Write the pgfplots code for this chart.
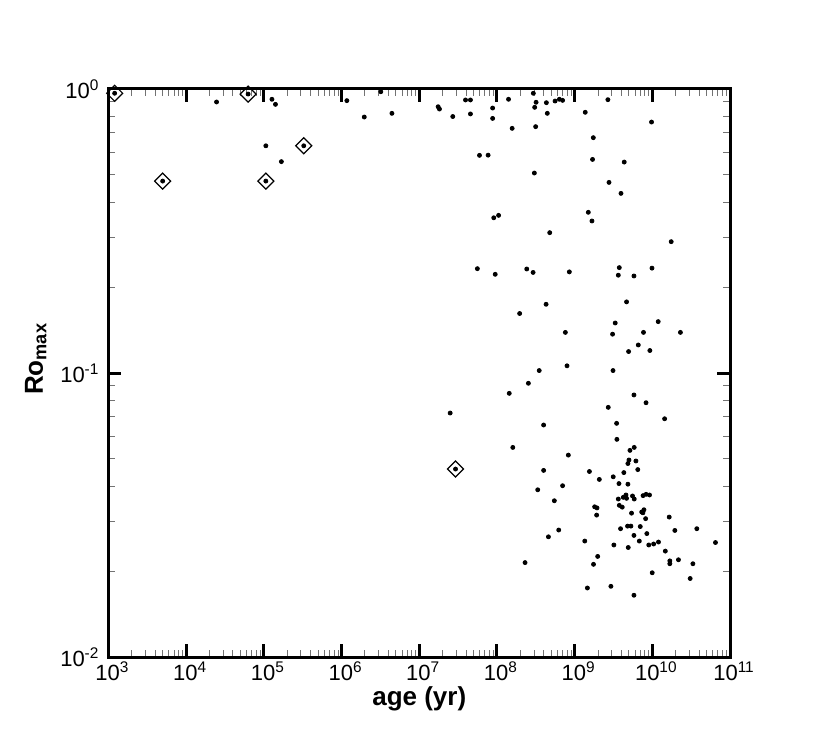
\documentclass[border=0pt]{standalone}
\usepackage{fontspec}
\setmainfont{Liberation Sans}
\usepackage{pgfplots}
\pgfplotsset{compat=1.18}
\usepackage{pgfplotstable}

\pgfplotstableread{
x y
1.2e3 0.966
2.46e4 0.90
6.27e4 0.96
1.27e5 0.92
1.41e5 0.883
1.17e6 0.91
1.06e5 0.631
3.26e5 0.631
1.68e5 0.555
4.98e3 0.474
1.06e5 0.474
3.2e6 0.978
1.96e6 0.797
4.45e6 0.821
1.75e7 0.866
1.82e7 0.85
2.7e7 0.80
3.94e7 0.915
4.56e7 0.915
4.56e7 0.817
8.8e7 0.857
8.8e7 0.788
1.41e8 0.92
2.94e8 0.966
3.19e8 0.898
3.06e8 0.862
1.57e8 0.727
3.15e8 0.737
5.96e7 0.584
7.7e7 0.585
3.03e8 0.506
4.33e8 0.895
4.45e8 0.821
5.6e8 0.907
6.36e8 0.92
7.0e8 0.912
1.37e9 0.828
2.68e9 0.917
9.77e9 0.765
1.74e9 0.674
1.7e9 0.565
4.35e9 0.553
2.77e9 0.469
3.95e9 0.429
9.1e7 0.352
1.05e8 0.359
1.5e9 0.368
1.67e9 0.343
4.78e8 0.312
1.75e10 0.29
5.6e7 0.233
9.5e7 0.2226
2.42e8 0.2324
2.92e8 0.226
8.55e8 0.227
3.76e9 0.235
3.65e9 0.221
5.8e9 0.2196
9.9e9 0.234
4.66e9 0.178
4.29e8 0.1746
1.96e8 0.162
3.33e9 0.150
1.19e10 0.1517
7.6e8 0.139
3.08e9 0.137
7.7e9 0.139
2.3e10 0.139
6.6e9 0.1255
4.95e9 0.119
9.3e9 0.120
3.5e8 0.102
7.98e8 0.106
3.12e9 0.102
2.54e8 0.092
1.44e8 0.0848
5.8e9 0.0837
8.3e9 0.0786
2.71e9 0.0757
1.44e10 0.069
2.5e7 0.0723
3.99e8 0.0656
3.47e9 0.0665
3.5e9 0.0584
1.6e8 0.0547
5.15e9 0.0534
5.85e9 0.0547
8.3e8 0.0514
5e9 0.0494
6.15e9 0.049
4.85e9 0.048
2.93e7 0.0459
3.99e8 0.0454
1.55e9 0.045
6.5e9 0.0457
4.3e9 0.0446
3.14e9 0.0431
2.08e9 0.0422
3.72e9 0.0408
4.85e9 0.0406
3.35e8 0.0388
7.0e8 0.0401
5.48e8 0.0355
3.65e9 0.036
4.23e9 0.0365
4.58e9 0.0372
4.66e9 0.0362
5.56e9 0.0369
5.85e9 0.036
7.6e9 0.037
8.3e9 0.0374
9.2e9 0.0372
3.76e9 0.0342
4.1e9 0.0337
1.81e9 0.0338
1.94e9 0.0335
1.92e9 0.0316
5.4e9 0.0321
7.3e9 0.0324
7.8e9 0.033
7.57e9 0.0322
1.65e10 0.0311
8.2e9 0.0307
6.24e8 0.028
4.6e8 0.0265
3.9e9 0.0283
4.8e9 0.0289
5.3e9 0.0289
7.0e9 0.0288
1.95e10 0.0279
3.74e10 0.0283
5.8e9 0.0268
8.5e9 0.0272
2.3e8 0.0215
1.35e9 0.0256
1.75e9 0.0212
1.98e9 0.0226
1.46e9 0.0175
2.93e9 0.01774
3.2e9 0.0248
4.9e9 0.0243
5.8e9 0.0165
6.8e9 0.0256
9.0e9 0.0248
1.04e10 0.025
9.97e9 0.0198
1.2e10 0.0254
1.47e10 0.0236
1.68e10 0.0218
1.68e10 0.0213
2.17e10 0.022
3.33e10 0.0213
3.07e10 0.0189
6.5e10 0.0253
}\dots

\pgfplotstableread{
x y
1.2e3 0.966
6.27e4 0.96
4.98e3 0.474
1.06e5 0.474
3.26e5 0.631
2.93e7 0.0459
}\diamonds

\begin{document}
\begin{tikzpicture}
\path[use as bounding box] (0,0) rectangle (415pt,369.5pt);
\begin{axis}[
  at={(54.25pt,41pt)}, anchor=south west,
  width=310.75pt, height=284pt, scale only axis,
  xmode=log, ymode=log,
  xmin=1e3, xmax=1e11, ymin=1e-2, ymax=1,
  clip=false,
  axis line style={line width=1.5pt},
  tick align=inside,
  major tick length=6.5pt, minor tick length=3.5pt,
  every major tick/.style={line width=1.5pt, black},
  every minor tick/.style={line width=0.5pt, black!55},
  xtick={1e3,1e4,1e5,1e6,1e7,1e8,1e9,1e10,1e11},
  xticklabels={10\textsuperscript{3},10\textsuperscript{4},10\textsuperscript{5},10\textsuperscript{6},10\textsuperscript{7},10\textsuperscript{8},10\textsuperscript{9},10\textsuperscript{10},10\textsuperscript{11}},
  ytick={1e-2,1e-1,1},
  yticklabels={10\textsuperscript{-2},10\textsuperscript{-1},10\textsuperscript{0}},
  tick label style={font=\fontsize{11}{12}\selectfont},
  xticklabel style={yshift=1pt, xshift=2pt},
  yticklabel style={xshift=-1pt},
  xlabel={age (yr)},
  ylabel={Ro\textsubscript{max}},
  xlabel style={font=\fontsize{13}{14}\selectfont\bfseries, at={(axis description cs:0.5,-0.0745)}, anchor=center},
  ylabel style={font=\fontsize{13}{14}\selectfont\bfseries, at={(axis description cs:-0.117,0.525)}, anchor=center},
]
\addplot[only marks, mark=*, mark size=1pt, mark options={fill=black, draw=black}] table[x=x,y=y] {\dots};
\addplot[only marks, mark=square, mark size=2.83pt, mark options={rotate=45, line width=0.6pt, draw=black, fill=none}] table[x=x,y=y] {\diamonds};
\end{axis}
\end{tikzpicture}
\end{document}
